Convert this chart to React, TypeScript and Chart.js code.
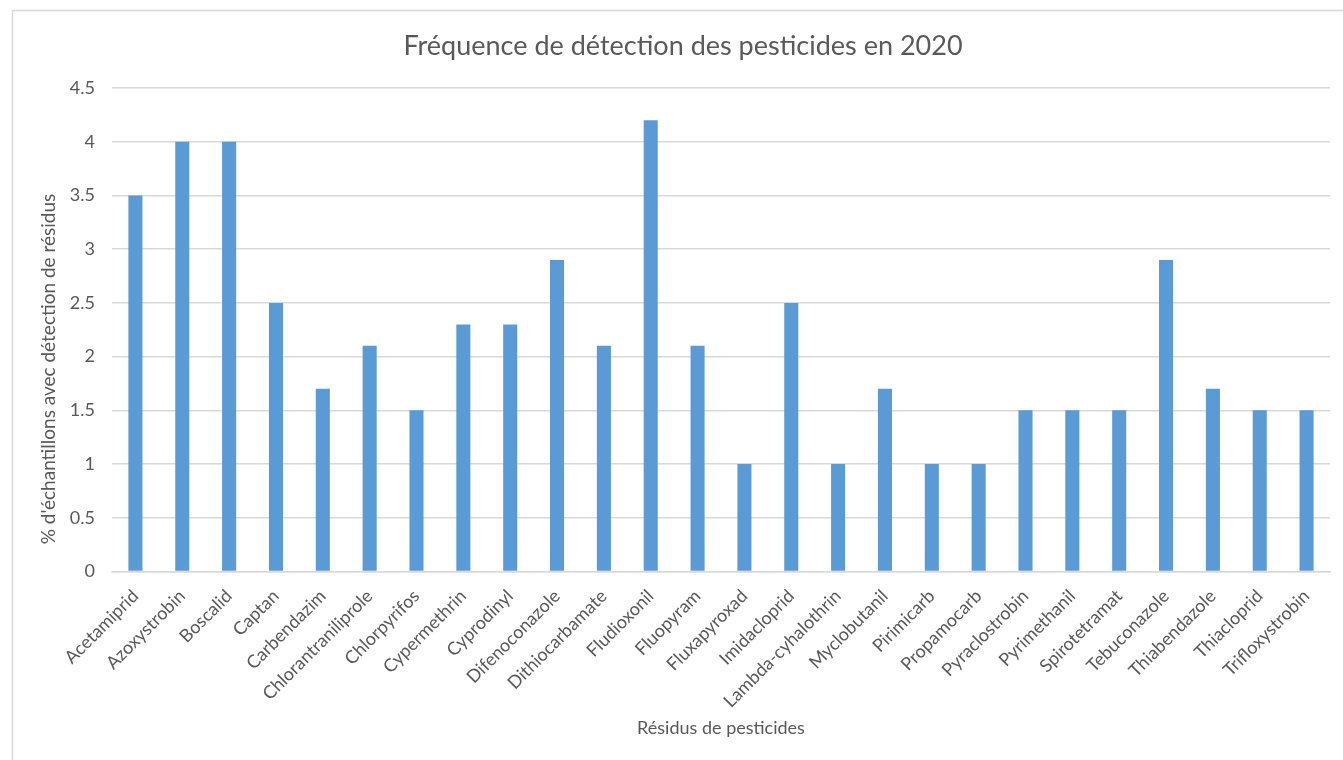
import React, { useEffect, useRef } from "react";
import { Chart, registerables } from "chart.js";

Chart.register(...registerables);

const categories = [
  "Acetamiprid", "Azoxystrobin", "Boscalid", "Captan", "Carbendazim",
  "Chlorantraniliprole", "Chlorpyrifos", "Cypermethrin", "Cyprodinyl",
  "Difenoconazole", "Dithiocarbamate", "Fludioxonil", "Fluopyram",
  "Fluxapyroxad", "Imidacloprid", "Lambda-cyhalothrin", "Myclobutanil",
  "Pirimicarb", "Propamocarb", "Pyraclostrobin", "Pyrimethanil",
  "Spirotetramat", "Tebuconazole", "Thiabendazole", "Thiacloprid",
  "Trifloxystrobin",
];

const detectionValues = [
  3.5, 4, 4, 2.5, 1.7, 2.1, 1.5, 2.3, 2.3, 2.9, 2.1, 4.2, 2.1, 1, 2.5, 1,
  1.7, 1, 1, 1.5, 1.5, 1.5, 2.9, 1.7, 1.5, 1.5,
];

const chartTitle = "Fréquence de détection des pesticides en 2020";
const yAxisTitle = "% d'échantillons avec détection de résidus";
const xAxisTitle = "Résidus de pesticides";

const FONT = "Lato, 'Open Sans', sans-serif";
const TEXT = "#595959";
const GRID = "#d9d9d9";
const BAR = "#5b9bd5";

export default function App() {
  const ref = useRef<HTMLCanvasElement>(null);
  useEffect(() => {
    document.body.style.margin = "0";
    const canvas = ref.current!;
    const framePlugin = {
      id: "frame",
      beforeDraw(chart: any) {
        const ctx = chart.ctx;
        ctx.save();
        ctx.fillStyle = "#ffffff";
        ctx.fillRect(0, 0, chart.width, chart.height);
        ctx.strokeStyle = GRID;
        ctx.lineWidth = 1.5;
        ctx.strokeRect(12.5, 10.5, chart.width + 20, chart.height + 20);
        ctx.restore();
      },
      afterDraw(chart: any) {
        const ctx = chart.ctx;
        ctx.save();
        ctx.fillStyle = TEXT;
        ctx.font = `27px ${FONT}`;
        ctx.textAlign = "center";
        ctx.textBaseline = "middle";
        ctx.fillText(chartTitle, 683, 46);
        ctx.translate(49, 369);
        ctx.rotate(-Math.PI / 2);
        ctx.font = `19px ${FONT}`;
        ctx.fillText(yAxisTitle, 0, 0);
        ctx.restore();
      },
    };
    const chart = new Chart(canvas, {
      type: "bar",
      data: {
        labels: categories,
        datasets: [
          {
            label: "Détection",
            data: detectionValues,
            backgroundColor: BAR,
            barPercentage: 0.3,
            categoryPercentage: 1,
          },
        ],
      },
      options: {
        responsive: false,
        animation: false,
        layout: { padding: { top: 88, left: 12, right: 13, bottom: 0 } },
        plugins: {
          legend: { display: false },
          tooltip: { enabled: false },
          title: { display: false },
        },
        scales: {
          x: {
            grid: { display: false, drawTicks: false },
            border: { display: true, color: GRID, width: 1.5 },
            ticks: {
              color: TEXT,
              font: { family: FONT, size: 18 },
              maxRotation: 45,
              minRotation: 45,
              autoSkip: false,
              padding: 14,
            },
            title: {
              display: true,
              text: xAxisTitle,
              color: TEXT,
              font: { family: FONT, size: 18 },
              padding: { top: 0, bottom: 21 },
            },
            afterFit(scale: any) {
              scale.height = 188.5;
            },
          },
          y: {
            min: 0,
            max: 4.5,
            ticks: {
              stepSize: 0.5,
              color: TEXT,
              font: { family: FONT, size: 18 },
              padding: 17,
              callback: (v: any) => String(Number(v)),
            },
            grid: { color: GRID, lineWidth: 1.5, drawTicks: false },
            border: { display: false },
            title: { display: false },
            afterFit(scale: any) {
              scale.width = 100;
            },
          },
        },
      },
      plugins: [framePlugin],
    });
    return () => chart.destroy();
  }, []);
  return (
    <div style={{ position: "absolute", left: 0, top: 0, width: 1343, height: 760 }}>
      <canvas ref={ref} width={1343} height={760} />
    </div>
  );
}
